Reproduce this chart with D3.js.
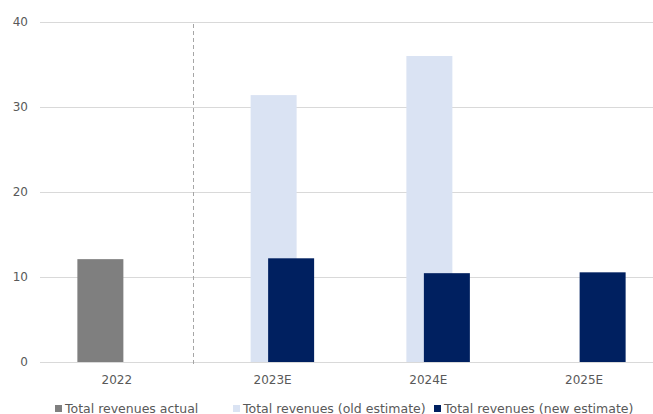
<!DOCTYPE html>
<html>
<head>
<meta charset="utf-8">
<script src="https://cdn.jsdelivr.net/npm/d3@7"></script>
<style>
  body { margin: 0; background: #fff; }
  text { font-family: "DejaVu Sans", Verdana, sans-serif; fill: #595959; }
</style>
</head>
<body>
<svg id="chart" width="653" height="414"></svg>
<script>
const categories = ['2022', '2023E', '2024E', '2025E'];
const seriesNames = ['Total revenues actual', 'Total revenues (old estimate)', 'Total revenues (new estimate)'];
const actual = [12.1, null, null, null];
const oldEstimate = [null, 31.4, 36.0, null];
const newEstimate = [null, 12.2, 10.45, 10.55];
const yTicks = [0, 10, 20, 30, 40];
const colors = ['#7f7f7f', '#dae3f3', '#002060'];

const W = 653, H = 414;
const margin = { top: 22, right: -10, bottom: 52, left: 40 };

const svg = d3.select('#chart');

const x = d3.scaleBand()
    .domain(categories)
    .range([margin.left, W - margin.right])
    .paddingInner(0)
    .paddingOuter(0);

const y = d3.scaleLinear()
    .domain([0, 40])
    .range([H - margin.bottom, margin.top]);

// gridlines
svg.append('g')
    .selectAll('line')
    .data(yTicks)
    .join('line')
    .attr('x1', margin.left)
    .attr('x2', W)
    .attr('y1', d => Math.round(y(d)) + 0.5)
    .attr('y2', d => Math.round(y(d)) + 0.5)
    .attr('stroke', '#d9d9d9')
    .attr('stroke-width', 1);

// y labels
svg.append('g')
    .selectAll('text')
    .data(yTicks)
    .join('text')
    .attr('x', 28)
    .attr('y', d => y(d))
    .attr('text-anchor', 'end')
    .attr('dominant-baseline', 'middle')
    .attr('font-size', '12px')
    .text(d => d);

// dashed separator between actual and estimates
const sepX = Math.round(x('2023E') - 3) + 0.5;
svg.append('line')
    .attr('x1', sepX).attr('x2', sepX)
    .attr('y1', 24).attr('y2', H - margin.bottom + 4)
    .attr('stroke', '#a6a6a6')
    .attr('stroke-dasharray', '4,3');

// bars
const seriesData = [actual, oldEstimate, newEstimate];
const barW = 46, seriesStep = 17.5;

seriesData.forEach((vals, s) => {
    svg.append('g')
        .selectAll('rect')
        .data(categories.map((c, i) => ({ c, v: vals[i] })).filter(d => d.v != null))
        .join('rect')
        .attr('x', d => x(d.c) + x.bandwidth() / 2 + (s - 1) * seriesStep - barW / 2)
        .attr('width', barW)
        .attr('y', d => y(d.v))
        .attr('height', d => y(0) - y(d.v))
        .attr('fill', colors[s]);
});

// x labels
svg.append('g')
    .selectAll('text')
    .data(categories)
    .join('text')
    .attr('x', d => x(d) + x.bandwidth() / 2 - 1)
    .attr('y', 384)
    .attr('text-anchor', 'middle')
    .attr('font-size', '12px')
    .text(d => d);

// legend
const legendX = [55, 233, 434];
const legend = svg.append('g');
seriesNames.forEach((name, s) => {
    legend.append('rect')
        .attr('x', legendX[s])
        .attr('y', 405)
        .attr('width', 7)
        .attr('height', 7)
        .attr('fill', colors[s]);
    legend.append('text')
        .attr('x', legendX[s] + 10)
        .attr('y', 412.5)
        .attr('font-size', '12.5px')
        .text(name);
});
</script>
</body>
</html>
